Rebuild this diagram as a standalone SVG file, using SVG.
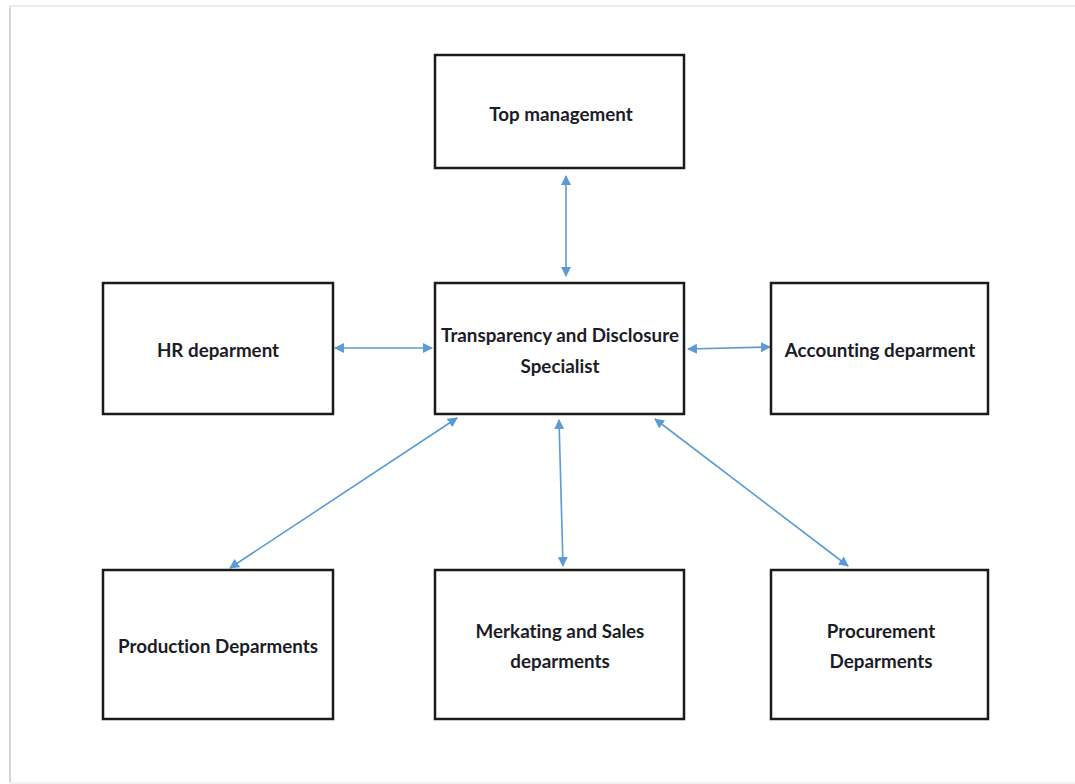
<svg xmlns="http://www.w3.org/2000/svg" width="1075" height="784" viewBox="0 0 1075 784">
  <defs>
    <style>
      .box { fill: #ffffff; stroke: #1a1a1a; stroke-width: 2.5; }
      .lbl { font-family: Lato, "Open Sans", "Liberation Sans", sans-serif; font-weight: 700; font-size: 18.8px; fill: #1c1c28; text-anchor: middle; font-variant-ligatures: none; }
      .link { stroke: #5b9bd5; stroke-width: 1.6; fill: none; marker-start: url(#head); marker-end: url(#head); }
    </style>
    <marker id="head" viewBox="0 0 10 10" refX="9" refY="5" markerWidth="10" markerHeight="10" markerUnits="userSpaceOnUse" orient="auto-start-reverse">
      <path d="M0,0 L10,5 L0,10 z" fill="#5b9bd5"/>
    </marker>
  </defs>

  <!-- page background with soft edge shadow -->
  <rect x="0" y="0" width="1075" height="784" fill="#ffffff"/>
  <rect x="9" y="5" width="2" height="779" fill="#d6d6d6"/>
  <rect x="9" y="5" width="1066" height="2" fill="#ececec"/>
  <rect x="9" y="782" width="1066" height="2" fill="#f2f2f2"/>

  <g id="connectors">
    <line class="link" x1="566" y1="176" x2="566" y2="276"/>
    <line class="link" x1="335" y1="348" x2="432" y2="348"/>
    <line class="link" x1="688" y1="349" x2="770" y2="347"/>
    <line class="link" x1="457" y1="418" x2="230" y2="568"/>
    <line class="link" x1="559" y1="420" x2="563" y2="566"/>
    <line class="link" x1="655" y1="419" x2="848" y2="566"/>
  </g>

  <g id="top-management">
    <rect class="box" x="435" y="55" width="249" height="113"/>
    <text class="lbl" x="561" y="121">Top management</text>
  </g>

  <g id="hr-department">
    <rect class="box" x="103" y="283" width="230" height="131"/>
    <text class="lbl" x="218" y="357">HR deparment</text>
  </g>

  <g id="specialist">
    <rect class="box" x="435" y="283" width="249" height="131"/>
    <text class="lbl" x="560" y="342">Transparency and Disclosure</text>
    <text class="lbl" x="560" y="373">Specialist</text>
  </g>

  <g id="accounting-department">
    <rect class="box" x="771" y="283" width="217" height="131"/>
    <text class="lbl" x="880" y="357">Accounting deparment</text>
  </g>

  <g id="production-departments">
    <rect class="box" x="103" y="570" width="230" height="149"/>
    <text class="lbl" x="218" y="653">Production Deparments</text>
  </g>

  <g id="marketing-sales-departments">
    <rect class="box" x="435" y="570" width="249" height="149"/>
    <text class="lbl" x="560" y="638">Merkating and Sales</text>
    <text class="lbl" x="560" y="668">deparments</text>
  </g>

  <g id="procurement-departments">
    <rect class="box" x="771" y="570" width="217" height="149"/>
    <text class="lbl" x="881" y="638">Procurement</text>
    <text class="lbl" x="881" y="668">Deparments</text>
  </g>
</svg>
